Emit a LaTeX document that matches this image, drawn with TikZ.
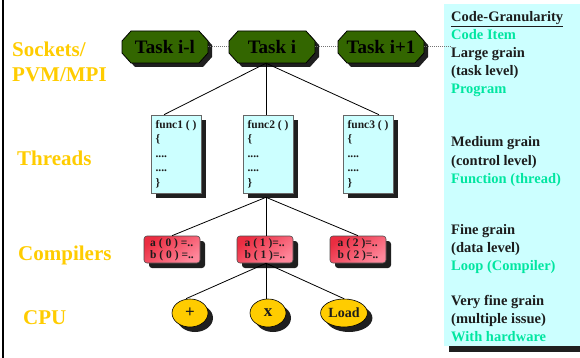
\documentclass[tikz,border=0pt]{standalone}
\usepackage{fontspec}
\setmainfont{Liberation Serif}
\usetikzlibrary{shapes.geometric,shadows}
\definecolor{TaskGreen}{RGB}{51,102,0}
\definecolor{LabelGold}{RGB}{255,204,0}
\definecolor{PanelCyan}{RGB}{204,255,255}
\definecolor{ItemAqua}{RGB}{0,230,160}
\definecolor{CompRed}{RGB}{235,45,65}
\definecolor{CompPink}{RGB}{255,135,155}
\definecolor{InkDark}{RGB}{28,28,28}
\tikzset{
  hardshadow/.style={drop shadow={shadow xshift=#1,shadow yshift=-#1,
    fill=black!88,opacity=1}},
  pics/taskplate/.style={code={
    \fill[black!88,shift={(4,4)}] (-34,-16) -- (34,-16) -- (43,-6) -- (43,6)
      -- (34,16) -- (-34,16) -- (-43,6) -- (-43,-6) -- cycle;
    \filldraw[draw=black,fill=TaskGreen,thick] (-34,-16) -- (34,-16)
      -- (43,-6) -- (43,6) -- (34,16) -- (-34,16) -- (-43,6) -- (-43,-6)
      -- cycle;}},
  taskbox/.style={minimum width=86pt,minimum height=32pt,inner sep=0pt,
    text=black,font=\fontsize{19}{22}\selectfont\bfseries},
  funcbox/.style={draw=black!60,fill=PanelCyan,semithick,align=left,
    minimum width=50pt,minimum height=78pt,inner sep=1pt,text=InkDark,
    font=\fontsize{11.5}{14.5}\selectfont\bfseries,hardshadow=5pt},
  compbox/.style={rounded corners=3pt,draw=black!70,semithick,
    top color=CompRed,bottom color=CompPink,shading angle=35,
    minimum width=56pt,minimum height=27pt,inner sep=1pt,align=left,
    text=InkDark,font=\fontsize{11.5}{12}\selectfont\bfseries,hardshadow=5pt},
  cpubox/.style={ellipse,draw=black,fill=LabelGold,semithick,
    minimum width=36pt,minimum height=28pt,inner sep=1pt,text=InkDark,
    font=\fontsize{17}{18}\selectfont\bfseries,hardshadow=5pt},
  layer/.style={anchor=base west,inner sep=0pt,text=LabelGold,
    font=\fontsize{21}{25}\selectfont\bfseries},
  grain/.style={anchor=base west,inner sep=0pt,
    font=\fontsize{14.5}{18}\selectfont\bfseries},
  link/.style={draw=black,line width=0.8pt},
  peer/.style={draw=black!55,line width=1pt,dash pattern=on 1pt off 1pt}
}
\begin{document}
\begin{tikzpicture}[x=1pt,y=-1pt]
\useasboundingbox (0,0) rectangle (580,358);
% frame and side panel
\draw[line width=2pt] (3,0) -- (3,358);
\fill[black!88] (449,10) rectangle (580,352);
\fill[PanelCyan] (444,4) rectangle (580,346);

% level labels
\node[layer] (lsock) at (12,57) {Sockets/};
\node[layer] (lpvm) at (12,82) {PVM/MPI};
\node[layer] (lthr) at (17,165) {Threads};
\node[layer] (lcomp) at (18,260) {Compilers};
\node[layer] (lcpu) at (23,324) {CPU};

% granularity column
\foreach \yb/\col/\txt [count=\k] in {
    22/InkDark/\underline{Code-Granularity}, 40/ItemAqua/Code Item,
    58/InkDark/Large grain, 76/InkDark/(task level), 94/ItemAqua/Program,
    147/InkDark/Medium grain, 165/InkDark/(control level),
    183/ItemAqua/Function (thread),
    234/InkDark/Fine grain, 252/InkDark/(data level),
    270/ItemAqua/Loop (Compiler),
    305/InkDark/Very fine grain, 323/InkDark/(multiple issue),
    341/ItemAqua/With hardware}
  \node[grain,text=\col] (g\k) at (451,\yb) {\txt};

% tasks
\foreach \cx in {165,272,381}
  \pic at (\cx,47) {taskplate};
\node[taskbox] (taskA) at (165,47) {Task i-l};
\node[taskbox] (taskB) at (272,47) {Task i};
\node[taskbox] (taskC) at (381,47) {Task i+1};

% threads
\node[funcbox] (func1) at (176,154) {func1 ( )\\\{\\....\\....\\\}};
\node[funcbox] (func2) at (268,154) {func2 ( )\\\{\\....\\....\\\}};
\node[funcbox] (func3) at (368,154) {func3 ( )\\\{\\....\\....\\\}};

% compiler level
\node[compbox] (comp1) at (172,249.5) {a ( 0 ) =..\\b ( 0 ) =..};
\node[compbox] (comp2) at (265,249.5) {a ( 1 )=..\\b ( 1 )=..};
\node[compbox] (comp3) at (358,249.5) {a ( 2 )=..\\b ( 2 )=..};

% cpu level
\node[cpubox] (cpu1) at (190,313) {+};
\node[cpubox] (cpu2) at (268,313) {x};
\node[cpubox,minimum width=42pt,font=\fontsize{14}{16}\selectfont\bfseries] (cpu3) at (344,313) {Load};

% connectors
\draw[peer] (taskA.east) -- (taskB.west);
\draw[peer] (taskB.east) -- (taskC.west);
\draw[peer] (taskC.east) -- (taskC.east -| g3.west);
\draw[link] ([xshift=-6pt]taskB.south) -- ([xshift=-12pt]func1.north);
\draw[link] ([xshift=-6pt]taskB.south) -- ([xshift=-2pt]func2.north);
\draw[link] ([xshift=-6pt]taskB.south) -- ([xshift=11pt]func3.north);
\draw[link] ([xshift=-2pt,yshift=-4pt]func2.south) -- (comp1.north);
\draw[link] ([xshift=-2pt,yshift=-4pt]func2.south) -- ([xshift=1pt]comp2.north);
\draw[link] ([xshift=-2pt,yshift=-4pt]func2.south) -- (comp3.north);
\draw[link] ([xshift=1pt]comp2.south) -- ([xshift=-4pt]cpu1.north);
\draw[link] ([xshift=1pt]comp2.south) -- ([xshift=-2pt]cpu2.north);
\draw[link] ([xshift=1pt]comp2.south) -- (cpu3.north);
\end{tikzpicture}
\end{document}
